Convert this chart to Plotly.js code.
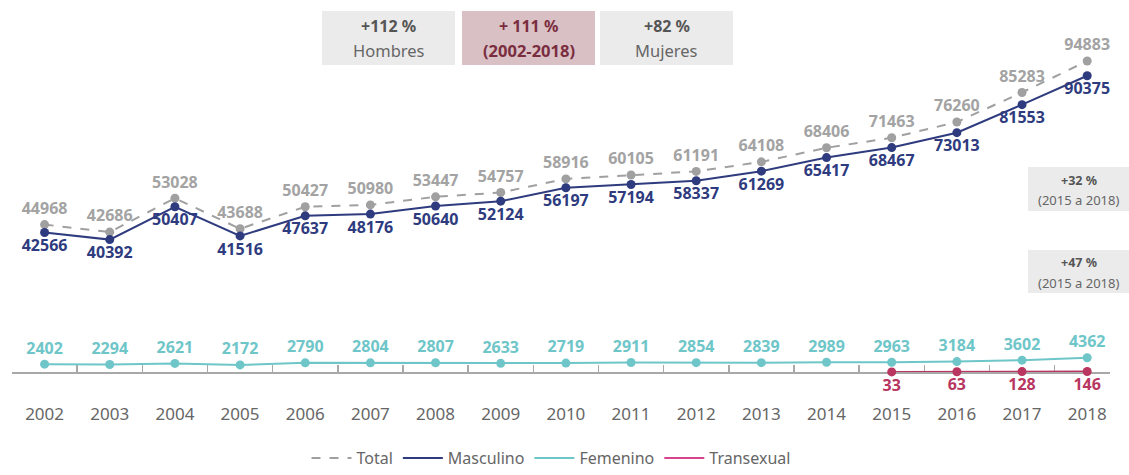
<!DOCTYPE html>
<html>
<head>
<meta charset="utf-8">
<script src="https://cdn.plot.ly/plotly-3.0.1.min.js"></script>
<style>html,body{margin:0;padding:0;background:#fff;}#chart{width:1129px;height:475px;}</style>
</head>
<body>
<div id="chart"></div>
<script>
const years = ['2002','2003','2004','2005','2006','2007','2008','2009','2010','2011','2012','2013','2014','2015','2016','2017','2018'];
const total = [44968, 42686, 53028, 43688, 50427, 50980, 53447, 54757, 58916, 60105, 61191, 64108, 68406, 71463, 76260, 85283, 94883];
const masculino = [42566, 40392, 50407, 41516, 47637, 48176, 50640, 52124, 56197, 57194, 58337, 61269, 65417, 68467, 73013, 81553, 90375];
const femenino = [2402, 2294, 2621, 2172, 2790, 2804, 2807, 2633, 2719, 2911, 2854, 2839, 2989, 2963, 3184, 3602, 4362];
const transexual = [null, null, null, null, null, null, null, null, null, null, null, null, null, 33, 63, 128, 146];
const seriesNames = ['Total', 'Masculino', 'Femenino', 'Transexual'];
const topBoxes = [
  {line1: '+112 %', line2: 'Hombres'},
  {line1: '+ 111 %', line2: '(2002-2018)'},
  {line1: '+82 %', line2: 'Mujeres'}
];
const sideBoxes = [
  {line1: '+32 %', line2: '(2015 a 2018)'},
  {line1: '+47 %', line2: '(2015 a 2018)'}
];

const FONT = 'Noto Sans, Open Sans, sans-serif';
const cTotal = '#a0a0a0', cMasc = '#2e3b7e', cFem = '#6fc6c9', cTrans = '#b8365f', cTransLeg = '#d6448e';

function lbl(v){ return v === null ? '' : String(v); }

const traces = [
  {x: years, y: total, name: seriesNames[0], mode: 'lines+markers+text', showlegend: false,
   line: {color: cTotal, width: 2, dash: 'dash'}, marker: {color: cTotal, size: 9},
   text: total.map(lbl), textposition: 'top center', cliponaxis: false,
   textfont: {family: FONT, size: 16, color: '#a3a3a3', weight: 'bold'}, hoverinfo: 'skip'},
  {x: years, y: masculino, name: seriesNames[1], mode: 'lines+markers+text', showlegend: false,
   line: {color: cMasc, width: 2}, marker: {color: cMasc, size: 9},
   text: masculino.map(lbl), textposition: 'bottom center', cliponaxis: false,
   textfont: {family: FONT, size: 16, color: cMasc, weight: 'bold'}, hoverinfo: 'skip'},
  {x: years, y: femenino, name: seriesNames[2], mode: 'lines+markers+text', showlegend: false,
   line: {color: cFem, width: 2}, marker: {color: cFem, size: 9},
   text: femenino.map(lbl), textposition: 'top center', cliponaxis: false,
   textfont: {family: FONT, size: 16, color: cFem, weight: 'bold'}, hoverinfo: 'skip'},
  {x: years, y: transexual, name: seriesNames[3], mode: 'lines+markers+text', showlegend: false,
   line: {color: cTrans, width: 2}, marker: {color: cTrans, size: 9},
   text: transexual.map(lbl), textposition: 'bottom center', cliponaxis: false,
   textfont: {family: FONT, size: 16, color: cTrans, weight: 'bold'}, hoverinfo: 'skip'},
  // legend entries
  {x: [null], y: [null], name: seriesNames[0], mode: 'lines', line: {color: cTotal, width: 2, dash: 'dash'}},
  {x: [null], y: [null], name: seriesNames[1], mode: 'lines', line: {color: cMasc, width: 2}},
  {x: [null], y: [null], name: seriesNames[2], mode: 'lines', line: {color: cFem, width: 2}},
  {x: [null], y: [null], name: seriesNames[3], mode: 'lines', line: {color: cTransLeg, width: 2}}
];

// pixel helpers: plot area x 12..1110, y 10..372
const L = 12, R = 1110, T = 10, B = 372;
const px = v => (v - L) / (R - L);
const py = v => (B - v) / (B - T);

const shapes = [];
const annotations = [];
const topX = [[322, 455], [462, 595], [600, 733]];
const topFill = ['#ebebeb', '#d8c0c4', '#ebebeb'];
const topC1 = ['#555555', '#7b2d40', '#555555'];
const topC2 = ['#666666', '#7b2d40', '#666666'];
topBoxes.forEach((b, i) => {
  shapes.push({type: 'rect', xref: 'paper', yref: 'paper', x0: px(topX[i][0]), x1: px(topX[i][1]),
    y0: py(65), y1: py(11), fillcolor: topFill[i], line: {width: 0}, layer: 'below'});
  const cx = px((topX[i][0] + topX[i][1]) / 2);
  annotations.push({xref: 'paper', yref: 'paper', x: cx, y: py(26), text: '<b>' + b.line1 + '</b>', showarrow: false,
    xanchor: 'center', yanchor: 'middle', font: {family: FONT, size: 16, color: topC1[i]}});
  annotations.push({xref: 'paper', yref: 'paper', x: cx, y: py(51), text: i === 1 ? '<b>' + b.line2 + '</b>' : b.line2, showarrow: false,
    xanchor: 'center', yanchor: 'middle', font: {family: FONT, size: 16.5, color: topC2[i]}});
});
const sideY = [[167, 211, 180, 200], [250, 293, 262, 283]];
sideBoxes.forEach((b, i) => {
  shapes.push({type: 'rect', xref: 'paper', yref: 'paper', x0: px(1028), x1: px(1129),
    y0: py(sideY[i][1]), y1: py(sideY[i][0]), fillcolor: '#ebebeb', line: {width: 0}, layer: 'below'});
  annotations.push({xref: 'paper', yref: 'paper', x: px(1078.5), y: py(sideY[i][2]), text: '<b>' + b.line1 + '</b>', showarrow: false,
    xanchor: 'center', yanchor: 'middle', font: {family: FONT, size: 12.5, color: '#555555'}});
  annotations.push({xref: 'paper', yref: 'paper', x: px(1078.5), y: py(sideY[i][3]), text: b.line2, showarrow: false,
    xanchor: 'center', yanchor: 'middle', font: {family: FONT, size: 13, color: '#666666'}});
});

const layout = {
  width: 1129, height: 475,
  margin: {l: L, r: 1129 - R, t: T, b: 475 - B, autoexpand: false},
  paper_bgcolor: '#ffffff', plot_bgcolor: '#ffffff',
  font: {family: FONT, color: '#666666'},
  showlegend: true,
  legend: {orientation: 'h', x: px(551), xanchor: 'center', y: py(475), yanchor: 'bottom',
    font: {family: FONT, size: 16, color: '#666666'}, bgcolor: 'rgba(0,0,0,0)', itemwidth: 40},
  xaxis: {type: 'category', range: [-0.5, 16.35], showgrid: false, zeroline: false,
    showline: true, linecolor: '#a8a8a8', linewidth: 2,
    ticks: 'inside', ticklen: 7, tickwidth: 1.5, tickcolor: '#a8a8a8', tickson: 'boundaries',
    tickfont: {family: FONT, size: 17, color: '#666666'}, ticklabelstandoff: 26,
    layer: 'below traces', fixedrange: true, automargin: false},
  yaxis: {range: [0, 110440], visible: false, showgrid: false, zeroline: false, fixedrange: true},
  shapes: shapes,
  annotations: annotations,
  hovermode: false
};

Plotly.newPlot('chart', traces, layout, {displayModeBar: false, staticPlot: true});
</script>
</body>
</html>
